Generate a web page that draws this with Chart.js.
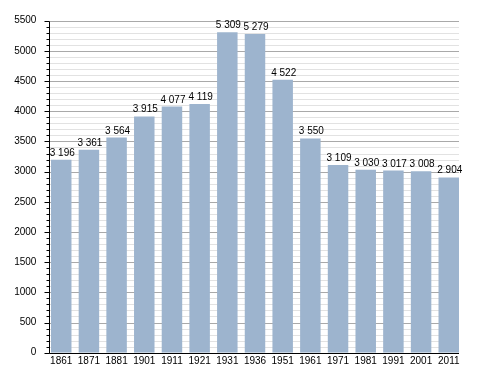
<!DOCTYPE html>
<html>
<head>
<meta charset="utf-8">
<script src="https://cdn.jsdelivr.net/npm/chart.js@4.4.0/dist/chart.umd.min.js"></script>
<style>
  body { margin: 0; background: #fff; }
  #wrap { width: 488px; height: 373px; }
</style>
</head>
<body>
<div id="wrap"><canvas id="grafico" width="488" height="373"></canvas></div>
<script>
// ***************************** DATOS *****************************
const years = ["1861", "1871", "1881", "1901", "1911", "1921", "1931", "1936",
  "1951", "1961", "1971", "1981", "1991", "2001", "2011"];
const population = [3196, 3361, 3564, 3915, 4077, 4119, 5309, 5279,
  4522, 3550, 3109, 3030, 3017, 3008, 2904];
const yMax = 5500;
const majorStep = 500;
const minorStep = 100;

const FONT = "'Liberation Sans', Arial, sans-serif";
const barColor = "#9db4ce";

// numero con espacio como separador de miles: 3196 -> "3 196"
function formatNum(n) {
  return String(n).replace(/\B(?=(\d{3})+(?!\d))/g, " ");
}

// *********************** REJILLA Y EJES **************************
// las lineas se dibujan entre el borde del primer y del ultimo bar
function barEdges(chart) {
  const bars = chart.getDatasetMeta(0).data;
  const first = bars[0], last = bars[bars.length - 1];
  return {
    x0: Math.floor(first.x - first.width / 2) - 0.5,
    x1: Math.round(last.x + last.width / 2)
  };
}

const gridPlugin = {
  id: "grid",
  beforeDatasetsDraw(chart) {
    const ctx = chart.ctx;
    const y = chart.scales.y;
    const { x0, x1 } = barEdges(chart);
    ctx.save();
    ctx.lineWidth = 1;
    for (let v = 0; v <= yMax; v += minorStep) {
      const py = Math.round(y.getPixelForValue(v)) + 0.5;
      const major = v % majorStep === 0;
      ctx.strokeStyle = major ? "#a9a9a9" : "#e2e2e2";
      ctx.beginPath();
      ctx.moveTo(x0, py);
      ctx.lineTo(x1, py);
      ctx.stroke();
    }
    ctx.restore();
  },
  afterDatasetsDraw(chart) {
    const ctx = chart.ctx;
    const y = chart.scales.y;
    const { x0, x1 } = barEdges(chart);
    const yBottom = Math.round(y.getPixelForValue(0)) + 0.5;
    const yTop = Math.round(y.getPixelForValue(yMax)) + 0.5;
    ctx.save();
    ctx.lineWidth = 1;
    ctx.strokeStyle = "#000";
    // marcas del eje vertical
    for (let v = 0; v <= yMax; v += minorStep) {
      const py = Math.round(y.getPixelForValue(v)) + 0.5;
      const len = v % majorStep === 0 ? 5 : 3;
      ctx.beginPath();
      ctx.moveTo(x0 - len, py);
      ctx.lineTo(x0, py);
      ctx.stroke();
    }
    ctx.beginPath();
    ctx.moveTo(x0, yTop);
    ctx.lineTo(x0, yBottom);
    ctx.lineTo(x1, yBottom);
    ctx.stroke();
    ctx.restore();
  }
};

// ******************** ETIQUETAS SOBRE LAS BARRAS *****************
const valuePlugin = {
  id: "values",
  afterDatasetsDraw(chart) {
    const ctx = chart.ctx;
    const meta = chart.getDatasetMeta(0);
    ctx.save();
    ctx.font = "10px " + FONT;
    ctx.fillStyle = "#000";
    ctx.textAlign = "center";
    ctx.textBaseline = "alphabetic";
    meta.data.forEach(function (bar, i) {
      ctx.fillText(formatNum(population[i]), bar.x + 1, bar.y - 4);
    });
    ctx.restore();
  }
};

// ***************************** GRÁFICO ***************************
new Chart(document.getElementById("grafico"), {
  type: "bar",
  data: {
    labels: years,
    datasets: [{
      data: population,
      backgroundColor: barColor,
      borderWidth: 0,
      categoryPercentage: 1,
      barPercentage: 0.74
    }]
  },
  options: {
    responsive: false,
    animation: false,
    events: [],
    layout: { padding: { top: 20.7, right: 25.4, left: 0, bottom: 0 } },
    plugins: { legend: { display: false }, tooltip: { enabled: false } },
    scales: {
      x: {
        grid: { display: false, drawTicks: false },
        border: { display: false },
        ticks: { font: { family: FONT, size: 10 }, color: "#000", padding: 3, maxRotation: 0, autoSkip: false },
        afterFit: function (s) { s.height = 20.3; }
      },
      y: {
        min: 0,
        max: yMax,
        grid: { display: false, drawTicks: false },
        border: { display: false },
        ticks: {
          stepSize: majorStep,
          font: { family: FONT, size: 10 },
          color: "#000",
          padding: 11,
          callback: function (v) { return String(v); }
        },
        afterFit: function (s) { s.width = 47.4; }
      }
    }
  },
  plugins: [gridPlugin, valuePlugin]
});
</script>
</body>
</html>
